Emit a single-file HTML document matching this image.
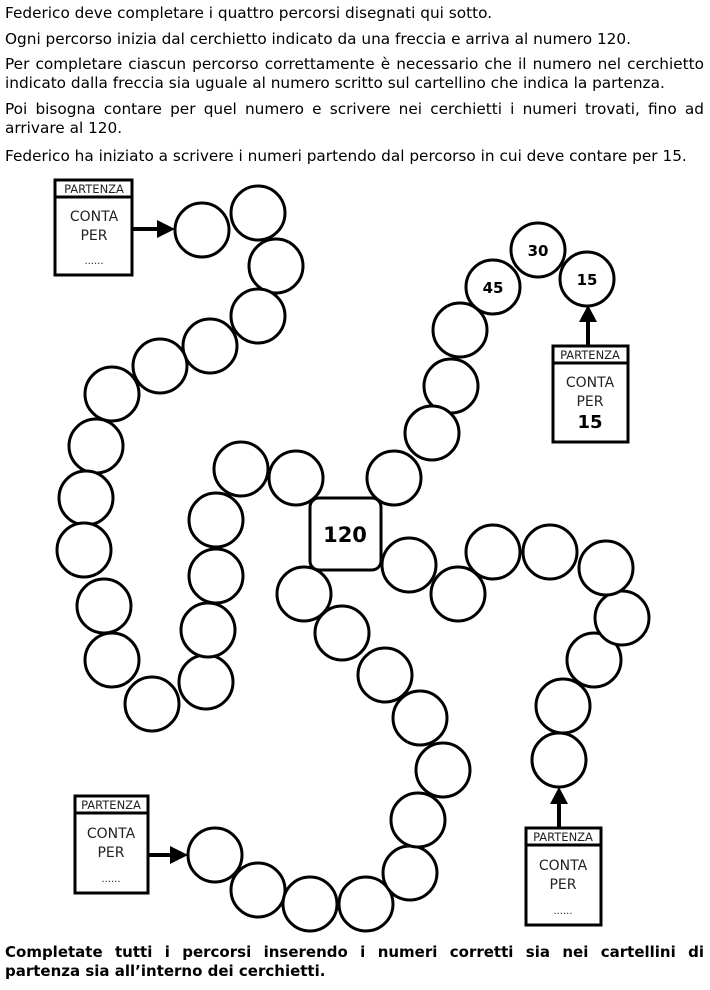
<!DOCTYPE html>
<html><head><meta charset="utf-8"><style>
body{margin:0;width:710px;height:990px;background:#fff;position:relative;overflow:hidden;font-family:"DejaVu Sans",Verdana,sans-serif;color:#000}
.p{position:absolute;left:5px;width:699px;font-size:15.3px;line-height:19px;text-align:justify;text-align-last:left}
svg{position:absolute;left:0;top:0}
</style></head><body>
<div class="p" style="top:4px">Federico deve completare i quattro percorsi disegnati qui sotto.</div>
<div class="p" style="top:30px">Ogni percorso inizia dal cerchietto indicato da una freccia e arriva al numero 120.</div>
<div class="p" style="top:55px">Per completare ciascun percorso correttamente è necessario che il numero nel cerchietto indicato dalla freccia sia uguale al numero scritto sul cartellino che indica la partenza.</div>
<div class="p" style="top:100px">Poi bisogna contare per quel numero e scrivere nei cerchietti i numeri trovati, fino ad arrivare al 120.</div>
<div class="p" style="top:147px">Federico ha iniziato a scrivere i numeri partendo dal percorso in cui deve contare per 15.</div>
<div class="p" style="top:943px;font-weight:bold;font-size:15px">Completate tutti i percorsi inserendo i numeri corretti sia nei cartellini di partenza sia all’interno dei cerchietti.</div>
<svg width="710" height="990" font-family="DejaVu Sans, Verdana, sans-serif">
<g fill="#fff" stroke="#000" stroke-width="3">
<circle cx="202" cy="230" r="27"/><circle cx="258" cy="213" r="27"/><circle cx="276" cy="266" r="27"/><circle cx="258" cy="316" r="27"/><circle cx="210" cy="346" r="27"/><circle cx="160" cy="366" r="27"/><circle cx="112" cy="394" r="27"/><circle cx="96" cy="446" r="27"/><circle cx="86" cy="498" r="27"/><circle cx="84" cy="550" r="27"/><circle cx="104" cy="606" r="27"/><circle cx="112" cy="660" r="27"/><circle cx="152" cy="704" r="27"/><circle cx="206" cy="682" r="27"/><circle cx="208" cy="630" r="27"/><circle cx="216" cy="576" r="27"/><circle cx="216" cy="520" r="27"/><circle cx="241" cy="469" r="27"/><circle cx="296" cy="478" r="27"/>
<circle cx="587" cy="279" r="27"/><circle cx="538" cy="250" r="27"/><circle cx="493" cy="287" r="27"/><circle cx="460" cy="330" r="27"/><circle cx="451" cy="386" r="27"/><circle cx="432" cy="433" r="27"/><circle cx="394" cy="478" r="27"/>
<circle cx="559" cy="760" r="27"/><circle cx="563" cy="706" r="27"/><circle cx="594" cy="660" r="27"/><circle cx="622" cy="618" r="27"/><circle cx="606" cy="568" r="27"/><circle cx="550" cy="552" r="27"/><circle cx="493" cy="552" r="27"/><circle cx="458" cy="594" r="27"/><circle cx="409" cy="565" r="27"/>
<circle cx="215" cy="855" r="27"/><circle cx="258" cy="890" r="27"/><circle cx="310" cy="904" r="27"/><circle cx="366" cy="904" r="27"/><circle cx="410" cy="873" r="27"/><circle cx="418" cy="820" r="27"/><circle cx="443" cy="770" r="27"/><circle cx="420" cy="718" r="27"/><circle cx="385" cy="675" r="27"/><circle cx="342" cy="633" r="27"/><circle cx="304" cy="594" r="27"/>
<rect x="310" y="498" width="71" height="72" rx="9"/>
<rect x="55" y="180" width="77" height="95"/><line x1="55" y1="197" x2="132" y2="197"/>
<rect x="553" y="346" width="75" height="96"/><line x1="553" y1="363" x2="628" y2="363"/>
<rect x="75" y="796" width="73" height="97"/><line x1="75" y1="813" x2="148" y2="813"/>
<rect x="526" y="828" width="75" height="97"/><line x1="526" y1="845" x2="601" y2="845"/>
</g>
<g stroke="#000" stroke-width="4" fill="#000">
<line x1="132" y1="229" x2="160" y2="229"/><path d="M157,220 L175,229 L157,238Z" stroke="none"/>
<line x1="148" y1="855" x2="172" y2="855"/><path d="M170,846 L188,855 L170,864Z" stroke="none"/>
<line x1="588" y1="346" x2="588" y2="320"/><path d="M579,322 L588,305 L597,322Z" stroke="none"/>
<line x1="559" y1="828" x2="559" y2="802"/><path d="M550,804 L559,787 L568,804Z" stroke="none"/>
</g>
<g font-size="11.5" text-anchor="middle" fill="#222">
<text x="94" y="193">PARTENZA</text><text x="590" y="359">PARTENZA</text><text x="111" y="809">PARTENZA</text><text x="563" y="841">PARTENZA</text>
</g>
<g font-size="14" text-anchor="middle" fill="#222">
<text x="94" y="221">CONTA</text><text x="94" y="240">PER</text><text x="94" y="264" font-size="10">......</text>
<text x="590" y="387">CONTA</text><text x="590" y="406">PER</text>
<text x="111" y="838">CONTA</text><text x="111" y="857">PER</text><text x="111" y="882" font-size="10">......</text>
<text x="563" y="870">CONTA</text><text x="563" y="889">PER</text><text x="563" y="914" font-size="10">......</text>
</g>
<g font-weight="bold" text-anchor="middle" fill="#000">
<text x="590" y="428" font-size="18">15</text>
<text x="345" y="542" font-size="21">120</text>
<text x="587" y="285" font-size="15">15</text><text x="538" y="256" font-size="15">30</text><text x="493" y="293" font-size="15">45</text>
</g>
</svg>
</body></html>
